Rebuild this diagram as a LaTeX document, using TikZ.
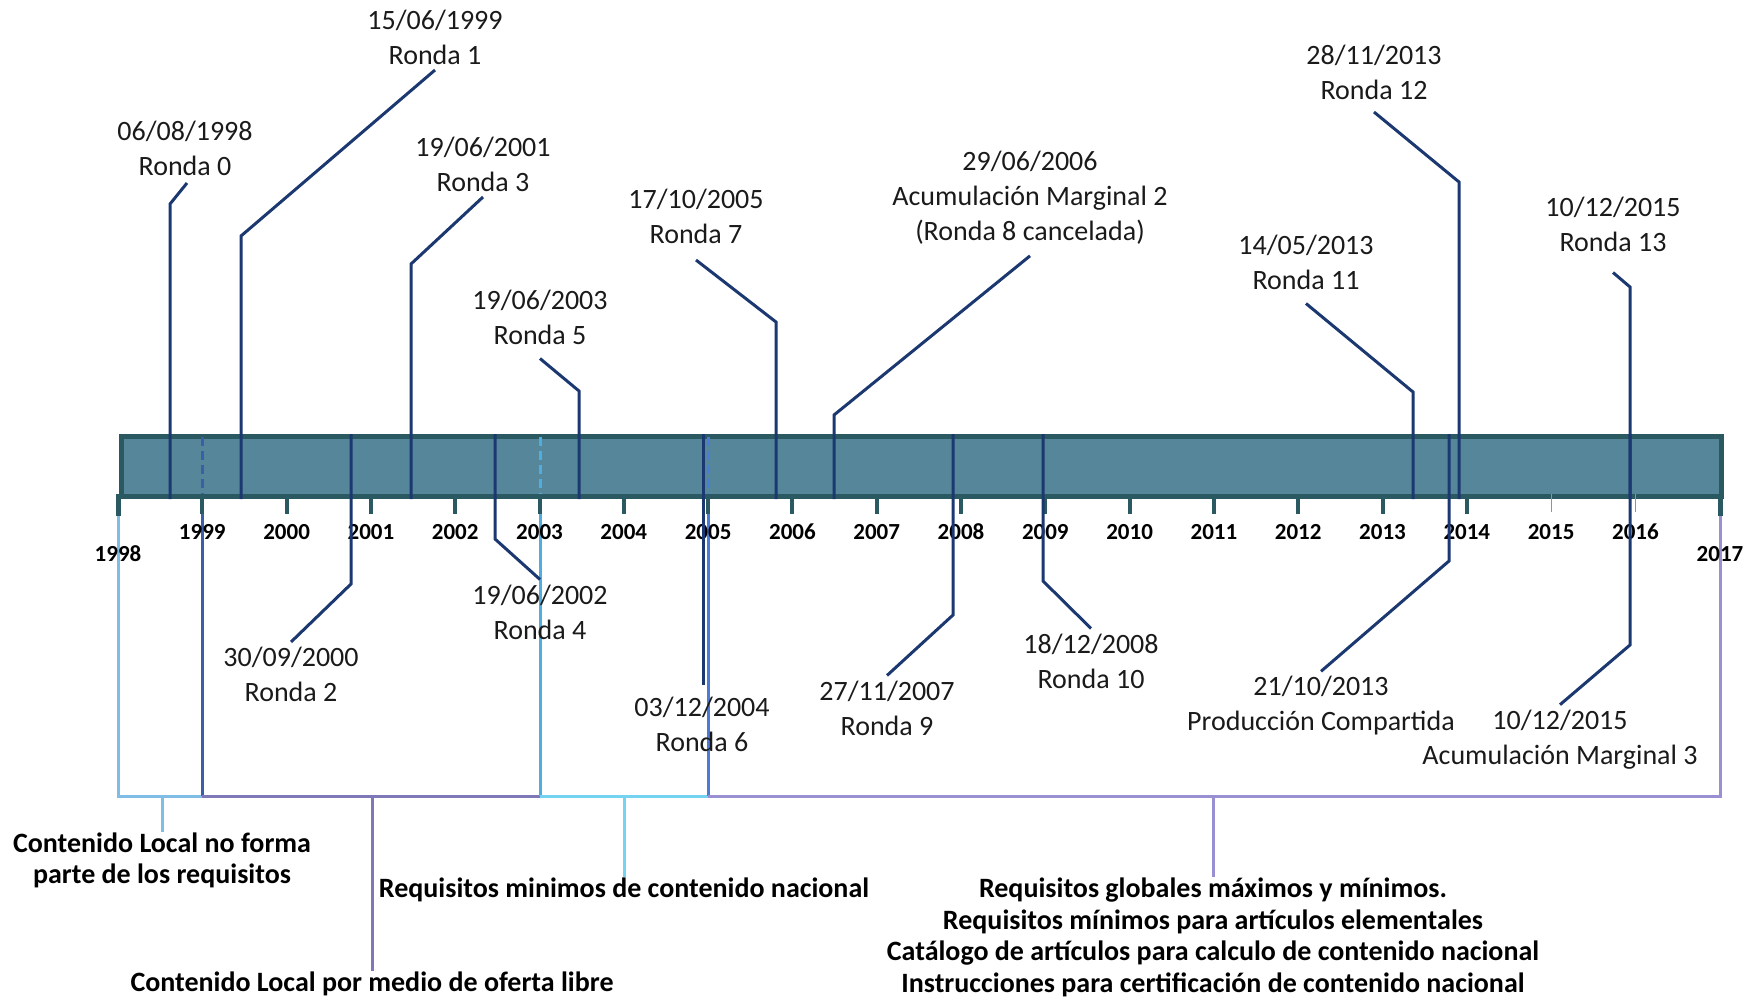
\documentclass[tikz,border=0pt]{standalone}
\usepackage{fontspec}
\setmainfont{Carlito}
\definecolor{barfill}{HTML}{55869A}
\definecolor{bardark}{HTML}{2B5961}
\definecolor{navy}{HTML}{1C3870}
\definecolor{lblue}{HTML}{80BDE6}
\definecolor{mblue}{HTML}{3C5EA8}
\definecolor{cyanb}{HTML}{4FAEDF}
\definecolor{cyanl}{HTML}{74D3F0}
\definecolor{purp}{HTML}{7E78B8}
\definecolor{lav}{HTML}{9890D2}
\definecolor{blue5}{HTML}{4A7BD6}
\definecolor{txt}{HTML}{1A1A1A}
\begin{document}
\begin{tikzpicture}[x=1pt,y=-1pt,
  datelbl/.style={font=\fontsize{28}{35}\selectfont, align=center, inner sep=1pt, text=txt},
  yrlbl/.style={font=\fontsize{23}{26}\selectfont\bfseries, inner sep=0pt, text=black},
  desclbl/.style={font=\fontsize{28}{31.5}\selectfont\bfseries, align=center, inner sep=1pt, text=black},
  conn/.style={draw=navy, line width=3pt},
  tickln/.style={draw=bardark, line width=4pt},
  brk/.style={line width=3pt}]
\useasboundingbox (0,0) rectangle (1760,1000);
% bar
\node[draw=bardark, fill=barfill, line width=5pt, minimum width=1600pt, minimum height=60pt,
      inner sep=0pt, anchor=north west] (bar) at (119,434) {};
% bracket verticals & horizontals
\draw[lblue, brk] (118,514) -- (118,796) -- (202,796);
\draw[mblue, brk] (202,494) -- (202,796);
\draw[purp, brk] (202,796) -- (540,796);
\draw[cyanb, brk] (540,494) -- (540,796);
\draw[cyanl, brk] (540,796) -- (708,796);
\draw[blue5, brk] (708,494) -- (708,796);
\draw[lav, brk] (708,796) -- (1720,796) -- (1720,514);
% dashed in bar
\draw[mblue, line width=3pt, dash pattern=on 9pt off 5pt] (202,437) -- (202,494);
\draw[cyanb, line width=3pt, dash pattern=on 9pt off 5pt] (540,437) -- (540,494);
\draw[blue5, line width=3pt, dash pattern=on 9pt off 5pt] (708,437) -- (708,494);
% ticks and years
\foreach \i in {0,...,19} {
  \pgfmathsetmacro{\xx}{118+84.3*\i}
  \ifnum\i=17 \draw[bardark!60, line width=1pt] (\xx,494) -- (\xx,512);
  \else\ifnum\i=18 \draw[bardark!60, line width=1pt] (\xx,494) -- (\xx,512);
  \else \draw[tickln] (\xx,494) -- (\xx,514); \fi\fi
}
\foreach \i in {1,...,18} {
  \pgfmathsetmacro{\xx}{118+84.3*\i}
  \pgfmathtruncatemacro{\yy}{1998+\i}
  \node[yrlbl] (y\yy) at (\xx,532) {\yy};
}
\node[yrlbl] (y1998) at (118,554) {1998};
\node[yrlbl] (y2017) at (1720,554) {2017};
\draw[bardark, line width=5pt] (118,494) -- (118,516);
\draw[bardark, line width=5pt] (1720,494) -- (1720,516);
% ---- top events
\node[datelbl] (r0) at (185,148.5) {06/08/1998\\Ronda 0};
\node[datelbl] (r1) at (435,37.5) {15/06/1999\\Ronda 1};
\node[datelbl] (r3) at (483,164.5) {19/06/2001\\Ronda 3};
\node[datelbl] (r5) at (540,317) {19/06/2003\\Ronda 5};
\node[datelbl] (r7) at (696,216.5) {17/10/2005\\Ronda 7};
\node[datelbl] (r8) at (1030,198) {29/06/2006\\Acumulación Marginal 2\\(Ronda 8 cancelada)};
\node[datelbl] (r11) at (1306,262) {14/05/2013\\Ronda 11};
\node[datelbl] (r12) at (1374,72.5) {28/11/2013\\Ronda 12};
\node[datelbl] (r13) at (1613,224) {10/12/2015\\Ronda 13};
\coordinate (b0) at (170,204);
\coordinate (b1) at (241,236);
\coordinate (b3) at (411,264);
\coordinate (b5) at (579,391);
\coordinate (b7) at (776,322);
\coordinate (b8) at (834,415);
\coordinate (b11) at (1413,392);
\coordinate (b12) at (1459,182);
\coordinate (b13) at (1630,287);
\draw[conn] ([xshift=2pt,yshift=-6pt]r0.south) -- (b0) -- (b0 |- bar.south);
\draw[conn] ([yshift=-4pt]r1.south) -- (b1) -- (b1 |- bar.south);
\draw[conn] ([yshift=-4pt]r3.south) -- (b3) -- (b3 |- bar.south);
\draw[conn] ([yshift=-13pt]r5.south) -- (b5) -- (b5 |- bar.south);
\draw[conn] ([yshift=-15pt]r7.south) -- (b7) -- (b7 |- bar.south);
\draw[conn] ([yshift=-10pt]r8.south) -- (b8) -- (b8 |- bar.south);
\draw[conn] ([yshift=-13pt]r11.south) -- (b11) -- (b11 |- bar.south);
\draw[conn] ([yshift=-11pt]r12.south) -- (b12) -- (b12 |- bar.south);
\draw[conn] ([yshift=-20pt]r13.south) -- (b13) -- (b13 |- bar.south);
% ---- bottom events
\node[datelbl] (r2) at (291,674.5) {30/09/2000\\Ronda 2};
\node[datelbl] (r4) at (540,612) {19/06/2002\\Ronda 4};
\node[datelbl] (r6) at (702,724.5) {03/12/2004\\Ronda 6};
\node[datelbl] (r9) at (887,708) {27/11/2007\\Ronda 9};
\node[datelbl] (r10) at (1091,661) {18/12/2008\\Ronda 10};
\node[datelbl] (pc) at (1321,706) {21/10/2013\\Producción Compartida};
\node[datelbl] (am3) at (1560,739.5) {10/12/2015\\Acumulación Marginal 3};
\coordinate (c2) at (351,584);
\coordinate (c4) at (495,539);
\coordinate (c6) at (703,685);
\coordinate (c9) at (953,615);
\coordinate (c10) at (1043,581);
\coordinate (cpc) at (1449,561);
\coordinate (cam) at (1630,645);
\draw[conn] (c2 |- bar.north) -- (c2) -- ([yshift=4pt]r2.north);
\draw[conn] (c4 |- bar.north) -- (c4) -- ([yshift=4pt]r4.north);
\draw[conn] (c6 |- bar.north) -- (c6);
\draw[conn] (c9 |- bar.north) -- (c9) -- ([yshift=4pt]r9.north);
\draw[conn] (c10 |- bar.north) -- (c10) -- ([yshift=4pt]r10.north);
\draw[conn] (cpc |- bar.north) -- (cpc) -- ([yshift=4pt]pc.north);
\draw[conn] (cam |- bar.north) -- (cam) -- ([yshift=4pt]am3.north);
% ---- period descriptions
\node[desclbl] (d1) at (162,860.5) {Contenido Local no forma\\parte de los requisitos};
\node[desclbl] (d2) at (372,984) {Contenido Local por medio de oferta libre};
\node[desclbl] (d3) at (624,890) {Requisitos minimos de contenido nacional};
\node[desclbl] (d4) at (1213,937.5) {Requisitos globales máximos y mínimos.\\Requisitos mínimos para artículos elementales\\Catálogo de artículos para calculo de contenido nacional\\Instrucciones para certificación de contenido nacional};
\coordinate (s1) at (162,796);
\coordinate (s2) at (372,796);
\coordinate (s3) at (624,796);
\coordinate (s4) at (1213,796);
\draw[lblue, brk] (s1) -- (d1.north);
\draw[purp, brk] (s2) -- (d2.north);
\draw[cyanl, brk] (s3) -- (d3.north);
\draw[lav, brk] (s4) -- (d4.north);
\end{tikzpicture}
\end{document}
